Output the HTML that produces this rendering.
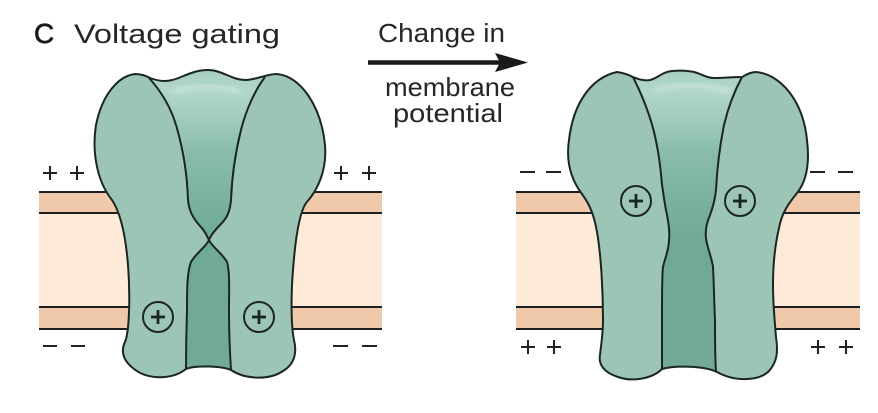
<!DOCTYPE html>
<html>
<head>
<meta charset="utf-8">
<style>
  html,body{margin:0;padding:0;background:#fff;}
  svg{display:block;}
  text{font-family:"Liberation Sans","DejaVu Sans",sans-serif;fill:#262626;}
</style>
</head>
<body>
<svg width="878" height="413" viewBox="0 0 878 413" xmlns="http://www.w3.org/2000/svg">
  <defs>
    <linearGradient id="cg" gradientUnits="userSpaceOnUse" x1="0" y1="70" x2="0" y2="370">
      <stop offset="0" stop-color="#A7CFC1"/>
      <stop offset="0.07" stop-color="#B3D7CA"/>
      <stop offset="0.28" stop-color="#88BCA9"/>
      <stop offset="0.55" stop-color="#70AA95"/>
      <stop offset="1" stop-color="#71AB96"/>
    </linearGradient>
    <filter id="bl" x="-20%" y="-50%" width="140%" height="200%">
      <feGaussianBlur stdDeviation="2"/>
    </filter>
  </defs>

  <!-- Titles -->
  <text x="34" y="43" font-size="28" style="fill:#1a1a1a;stroke:#1a1a1a;stroke-width:0.7">C</text>
  <text x="74" y="43" font-size="27" textLength="206" lengthAdjust="spacingAndGlyphs">Voltage gating</text>

  <!-- Arrow label -->
  <text x="378" y="42" font-size="25.5" textLength="127" lengthAdjust="spacingAndGlyphs">Change in</text>
  <line x1="368" y1="62.5" x2="502" y2="62.5" stroke="#1a1a1a" stroke-width="4.5"/>
  <polygon points="495,53 528,62.5 495,72 500,62.5" fill="#1a1a1a"/>
  <text x="385" y="96" font-size="26" textLength="130" lengthAdjust="spacingAndGlyphs">membrane</text>
  <text x="393" y="122" font-size="26" textLength="110" lengthAdjust="spacingAndGlyphs">potential</text>

  <!-- ===== LEFT membrane ===== -->
  <rect x="39" y="192" width="343" height="21" fill="#EFC9AA"/>
  <rect x="39" y="213" width="343" height="94" fill="#FDEAD8"/>
  <rect x="39" y="307" width="343" height="22" fill="#EFC9AA"/>
  <g stroke="#1f1f1f" stroke-width="2">
    <line x1="39" y1="192" x2="382" y2="192"/>
    <line x1="39" y1="213" x2="382" y2="213"/>
    <line x1="39" y1="307" x2="382" y2="307"/>
    <line x1="39" y1="329" x2="382" y2="329"/>
  </g>

  <!-- ===== RIGHT membrane ===== -->
  <rect x="516" y="192" width="344" height="21" fill="#EFC9AA"/>
  <rect x="516" y="213" width="344" height="94" fill="#FDEAD8"/>
  <rect x="516" y="307" width="344" height="22" fill="#EFC9AA"/>
  <g stroke="#1f1f1f" stroke-width="2">
    <line x1="516" y1="192" x2="860" y2="192"/>
    <line x1="516" y1="213" x2="860" y2="213"/>
    <line x1="516" y1="307" x2="860" y2="307"/>
    <line x1="516" y1="329" x2="860" y2="329"/>
  </g>

  <!-- ===== LEFT channel ===== -->
  <path d="M135,74 C142,74 146,76 150,78 C158,81 165,82 172,80 C182,78 192,70 208,70 C222,70 232,80 245,80 C256,80 266,74 277,74 C300,76 321,105 325,145 C327,170 318,190 306,203 C298,215 294,250 292,285 C291,310 292,330 294,340 C297,352 295,364 283,371 C270,380 246,380 231,370 C222,366 195,365 186,369 C172,380 148,380 134,369 C122,360 121,350 125,342 C130,330 130,290 128,265 C126,240 122,215 112,200 C96,180 92,150 96,125 C102,95 118,76 135,74 Z" fill="#9CC5B6"/>
  <path d="M149,78 C158,81 165,82 172,80 C182,78 192,70 208,70 C222,70 232,80 245,80 C254,80 260,78 265,77 C255,90 246,110 241,130 C236,150 232,175 231,200 C230,210 228,217 221,224 C215,230 211,235 209,240 C212,247 222,253 227,262 C230,272 229,290 229,310 C229,340 230,355 231,370 C222,366 195,365 186,369 C186,355 186,340 187,310 C187,290 187,272 191,262 C196,253 206,247 209,240 C207,236 205,231 200,226 C192,217 189,210 188,200 C187,170 182,145 176,125 C170,105 160,90 149,78 Z" fill="url(#cg)"/>
  <path d="M172,92 C190,86 215,84 240,92" stroke="#C9E3DA" stroke-width="4" fill="none" filter="url(#bl)"/>
  <g fill="none" stroke="#1b2622" stroke-width="2">
    <path d="M135,74 C142,74 146,76 150,78 C158,81 165,82 172,80 C182,78 192,70 208,70 C222,70 232,80 245,80 C256,80 266,74 277,74 C300,76 321,105 325,145 C327,170 318,190 306,203 C298,215 294,250 292,285 C291,310 292,330 294,340 C297,352 295,364 283,371 C270,380 246,380 231,370 C222,366 195,365 186,369 C172,380 148,380 134,369 C122,360 121,350 125,342 C130,330 130,290 128,265 C126,240 122,215 112,200 C96,180 92,150 96,125 C102,95 118,76 135,74 Z"/>
    <path d="M149,78 C160,90 170,105 176,125 C182,145 187,170 188,200 C189,210 192,217 200,226 C205,231 207,236 209,240 C206,247 196,253 191,262 C187,272 187,290 187,310 C186,340 186,355 186,369"/>
    <path d="M265,77 C255,90 246,110 241,130 C236,150 232,175 231,200 C230,210 228,217 221,224 C215,230 211,235 209,240 C212,247 222,253 227,262 C230,272 229,290 229,310 C229,340 230,355 231,370"/>
    <circle cx="158" cy="317" r="15"/>
    <circle cx="259" cy="317" r="15"/>
  </g>
  <g stroke="#1b2622" stroke-width="2.8">
    <line x1="151" y1="317" x2="165" y2="317"/><line x1="158" y1="310" x2="158" y2="324"/>
    <line x1="252" y1="317" x2="266" y2="317"/><line x1="259" y1="310" x2="259" y2="324"/>
  </g>

  <!-- ===== RIGHT channel ===== -->
  <path d="M617,72 C624,73 629,75 633,77 C640,80 645,81 650,80 C658,78 662,72 672,71 C682,70 688,71 694,72 C702,74 706,78 714,78 C724,78 732,77 742,77 C746,75 750,72 756,72 C780,74 803,100 807,140 C810,165 806,182 797,193 C789,203 782,212 779,228 C775,245 773,265 773,285 C773,305 775,325 776,337 C778,350 778,362 768,372 C758,381 735,382 717,372 C705,366 675,365 662,369 C652,379 632,382 618,377 C605,373 598,365 600,355 C601,345 603,335 603,320 C603,290 601,255 597,232 C594,215 590,205 582,194 C570,178 566,160 569,140 C573,105 590,78 617,72 Z" fill="#9CC5B6"/>
  <path d="M633,77 C640,80 645,81 650,80 C658,78 662,72 672,71 C682,70 688,71 694,72 C702,74 706,78 714,78 C724,78 732,77 742,77 C735,90 728,108 724,125 C720,145 717,170 716,190 C715,200 713,207 710,215 C707,222 705,230 706,238 C707,248 712,258 713,267 C714,285 714,300 715,320 C715,345 715,360 716,371 C705,366 675,365 662,369 C662,355 662,340 662,313 C662,290 662,275 663,267 C665,258 669,250 669,240 C670,230 668,220 666,210 C664,200 663,190 662,185 C660,160 656,135 649,115 C644,100 638,87 633,77 Z" fill="url(#cg)"/>
  <path d="M655,90 C675,84 705,83 730,92" stroke="#C9E3DA" stroke-width="4" fill="none" filter="url(#bl)"/>
  <g fill="none" stroke="#1b2622" stroke-width="2">
    <path d="M617,72 C624,73 629,75 633,77 C640,80 645,81 650,80 C658,78 662,72 672,71 C682,70 688,71 694,72 C702,74 706,78 714,78 C724,78 732,77 742,77 C746,75 750,72 756,72 C780,74 803,100 807,140 C810,165 806,182 797,193 C789,203 782,212 779,228 C775,245 773,265 773,285 C773,305 775,325 776,337 C778,350 778,362 768,372 C758,381 735,382 717,372 C705,366 675,365 662,369 C652,379 632,382 618,377 C605,373 598,365 600,355 C601,345 603,335 603,320 C603,290 601,255 597,232 C594,215 590,205 582,194 C570,178 566,160 569,140 C573,105 590,78 617,72 Z"/>
    <path d="M633,77 C638,87 644,100 649,115 C656,135 660,160 662,185 C663,190 664,200 666,210 C668,220 670,230 669,240 C669,250 665,258 663,267 C662,275 662,290 662,313 C662,340 662,355 662,369"/>
    <path d="M742,77 C735,90 728,108 724,125 C720,145 717,170 716,190 C715,200 713,207 710,215 C707,222 705,230 706,238 C707,248 712,258 713,267 C714,285 714,300 715,320 C715,345 715,360 716,371"/>
    <circle cx="636" cy="201" r="15"/>
    <circle cx="740" cy="201" r="15"/>
  </g>
  <g stroke="#1b2622" stroke-width="2.8">
    <line x1="629" y1="201" x2="643" y2="201"/><line x1="636" y1="194" x2="636" y2="208"/>
    <line x1="733" y1="201" x2="747" y2="201"/><line x1="740" y1="194" x2="740" y2="208"/>
  </g>

  <!-- ===== Charges ===== -->
  <g stroke="#222" stroke-width="2">
    <line x1="43" y1="173" x2="57" y2="173"/><line x1="50" y1="166" x2="50" y2="180"/>
    <line x1="70" y1="173" x2="84" y2="173"/><line x1="77" y1="166" x2="77" y2="180"/>
    <line x1="334" y1="173" x2="348" y2="173"/><line x1="341" y1="166" x2="341" y2="180"/>
    <line x1="362" y1="173" x2="376" y2="173"/><line x1="369" y1="166" x2="369" y2="180"/>
    <line x1="43" y1="346" x2="57" y2="346"/>
    <line x1="71" y1="346" x2="85" y2="346"/>
    <line x1="333" y1="346" x2="348" y2="346"/>
    <line x1="362" y1="346" x2="377" y2="346"/>
    <line x1="520" y1="172" x2="535" y2="172"/>
    <line x1="546" y1="172" x2="561" y2="172"/>
    <line x1="810" y1="172" x2="825" y2="172"/>
    <line x1="838" y1="172" x2="853" y2="172"/>
    <line x1="521" y1="347" x2="535" y2="347"/><line x1="528" y1="340" x2="528" y2="354"/>
    <line x1="547" y1="347" x2="561" y2="347"/><line x1="554" y1="340" x2="554" y2="354"/>
    <line x1="811" y1="347" x2="825" y2="347"/><line x1="818" y1="340" x2="818" y2="354"/>
    <line x1="839" y1="347" x2="853" y2="347"/><line x1="846" y1="340" x2="846" y2="354"/>
  </g>
</svg>
</body>
</html>
